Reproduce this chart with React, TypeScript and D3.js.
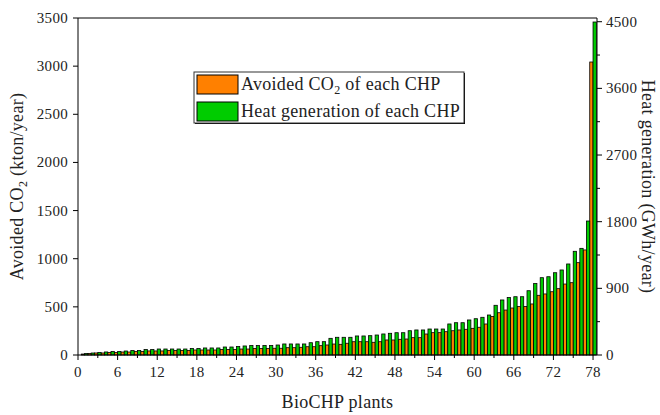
import React from "react";
import * as d3 from "d3";

// avoided CO2 per plant (kton/year), left axis
const avoidedCO2 = [
  10, 16, 21, 21, 26, 26, 31, 31, 36, 36, 42, 42, 42, 47,
  47, 47, 47, 52, 52, 52, 52, 57, 57, 57, 62, 62, 68, 68, 68,
  70, 70, 76, 76, 80, 86, 86, 97, 104, 114, 111, 122, 138, 138,
  138, 132, 138, 156, 156, 163, 166, 180, 180, 218, 232, 232, 242, 252, 260,
  267, 277, 288, 322, 400, 439, 467, 488, 504, 504, 530, 620, 634, 657, 689,
  737, 751, 959, 1091, 3043,
];

// heat generation per plant (GWh/year), right axis
const heatGen = [
  20, 27, 34, 41, 47, 47, 54, 61, 61, 74, 74, 81, 81, 81,
  81, 81, 88, 88, 95, 95, 95, 108, 108, 115, 122, 128, 128, 128, 128,
  135, 149, 149, 149, 149, 166, 180, 180, 225, 239, 239, 239, 257, 257,
  261, 270, 284, 293, 301, 301, 328, 338, 338, 351, 351, 351, 419, 436, 436,
  473, 490, 509, 540, 671, 743, 776, 787, 787, 868, 965, 1044, 1057, 1111, 1148,
  1229, 1400, 1440, 1809, 4496,
];

const xTicks = [0, 6, 12, 18, 24, 30, 36, 42, 48, 54, 60, 66, 72, 78];
const leftTicks = [0, 500, 1000, 1500, 2000, 2500, 3000, 3500];
const rightTicks = [0, 900, 1800, 2700, 3600, 4500];

const W = 660;
const H = 415;
const margin = { top: 18, right: 63, bottom: 60, left: 78 };
const font = '"Liberation Serif", "Times New Roman", serif';
const ORANGE = "#ff8000";
const GREEN = "#00cc00";
const TXT = "#222";

export default function App() {
  const x = d3
    .scaleLinear()
    .domain([0, 78.6])
    .range([margin.left, W - margin.right]);
  const yL = d3
    .scaleLinear()
    .domain([0, 3500])
    .range([H - margin.bottom, margin.top]);
  const yR = d3
    .scaleLinear()
    .domain([0, 4550])
    .range([H - margin.bottom, margin.top]);

  const x0 = x.range()[0];
  const x1 = x.range()[1];
  const yb = yL.range()[0];
  const yt = yL.range()[1];

  const minorX = d3.range(3, 79, 6);
  const minorR = d3.range(450, 4550, 900);

  const tickStyle = { fontSize: 15, letterSpacing: 0.3, fill: TXT };
  const titleStyle = { fontSize: 18, letterSpacing: 0.3, fill: TXT };

  return (
    <div style={{ position: "absolute", left: 0, top: 0 }}>
      <svg width={W} height={H} style={{ display: "block", fontFamily: font }}>
        <rect width={W} height={H} fill="#fff" />

        {/* bars */}
        {avoidedCO2.map((v, i) => {
          const p = i + 1;
          return (
            <rect
              key={"o" + p}
              x={x(p - 0.5)}
              y={yL(v)}
              width={x(p) - x(p - 0.5)}
              height={yb - yL(v)}
              fill={ORANGE}
              stroke="#000"
              strokeWidth={0.8}
            />
          );
        })}
        {heatGen.map((v, i) => {
          const p = i + 1;
          return (
            <rect
              key={"g" + p}
              x={x(p)}
              y={yR(v)}
              width={x(p + 0.5) - x(p)}
              height={yb - yR(v)}
              fill={GREEN}
              stroke="#000"
              strokeWidth={0.8}
            />
          );
        })}

        {/* frame */}
        <line x1={x0} x2={x1} y1={yt} y2={yt} stroke="#000" />
        <line x1={x0} x2={x0} y1={yt} y2={yb} stroke="#000" />
        <line x1={x1} x2={x1} y1={yt} y2={yb} stroke="#000" />
        <line x1={x0} x2={x1} y1={yb} y2={yb} stroke="#000" />

        {/* x axis */}
        {xTicks.map((t) => (
          <g key={"xt" + t}>
            <line x1={x(t)} x2={x(t)} y1={yb} y2={yb + 5} stroke="#000" />
            <text x={x(t)} y={yb + 22} textAnchor="middle" {...tickStyle}>
              {t}
            </text>
          </g>
        ))}
        {minorX.map((t) => (
          <line key={"xm" + t} x1={x(t)} x2={x(t)} y1={yb} y2={yb + 3} stroke="#000" />
        ))}
        <text x={(x0 + x1) / 2} y={408} textAnchor="middle" {...titleStyle}>
          BioCHP plants
        </text>

        {/* left axis */}
        {leftTicks.map((t) => (
          <g key={"yl" + t}>
            <line x1={x0 - 5} x2={x0} y1={yL(t)} y2={yL(t)} stroke="#000" />
            <text x={x0 - 10} y={yL(t) + 5} textAnchor="end" {...tickStyle}>
              {t}
            </text>
          </g>
        ))}
        <text
          transform={`translate(23,${(yt + yb) / 2}) rotate(-90)`}
          textAnchor="middle"
          {...titleStyle}
        >
          Avoided CO<tspan fontSize={12} dy={4}>2</tspan>
          <tspan dy={-4}> (kton/year)</tspan>
        </text>

        {/* right axis */}
        {rightTicks.map((t) => (
          <g key={"yr" + t}>
            <line x1={x1} x2={x1 + 5} y1={yR(t)} y2={yR(t)} stroke="#000" />
            <text x={x1 + 9} y={yR(t) + 5} textAnchor="start" {...tickStyle}>
              {t}
            </text>
          </g>
        ))}
        {minorR.map((t) => (
          <line key={"rm" + t} x1={x1} x2={x1 + 3} y1={yR(t)} y2={yR(t)} stroke="#000" />
        ))}
        <text
          transform={`translate(642,${(yt + yb) / 2}) rotate(90)`}
          textAnchor="middle"
          {...titleStyle}
        >
          Heat generation (GWh/year)
        </text>

        {/* legend */}
        <g>
          <rect x={195} y={73} width={270} height={51} fill="#000" />
          <rect x={194} y={72} width={270} height={51} fill="#fff" stroke="#333" />
          <rect x={197} y={75} width={41} height={19} fill={ORANGE} stroke="#000" />
          <rect x={197} y={102} width={41} height={19} fill={GREEN} stroke="#000" />
          <text x={241} y={90} {...titleStyle}>
            Avoided CO<tspan fontSize={12} dy={4}>2</tspan>
            <tspan dy={-4}> of each CHP</tspan>
          </text>
          <text x={241} y={117} {...titleStyle}>
            Heat generation of each CHP
          </text>
        </g>
      </svg>
    </div>
  );
}
